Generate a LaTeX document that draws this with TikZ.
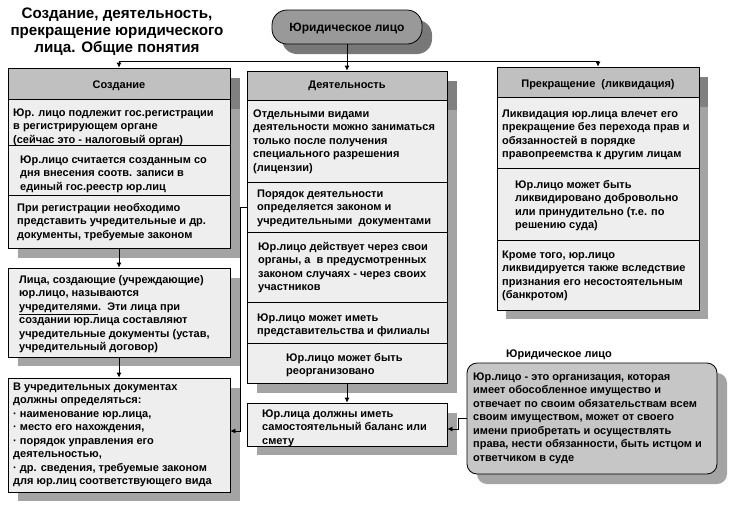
\documentclass[tikz,border=0pt]{standalone}
\usepackage{fontspec}
\setmainfont{Liberation Sans}
\usetikzlibrary{arrows.meta,fit}
\definecolor{cellfill}{HTML}{EEEEEE}
\definecolor{headfill}{HTML}{C0C0C0}
\definecolor{shdark}{HTML}{808080}
\definecolor{shlight}{HTML}{A4A4A4}
\definecolor{pillfill}{HTML}{999999}
\definecolor{pillshadow}{HTML}{787878}
\definecolor{deffill}{HTML}{C6C6C6}
\tikzset{
  boxline/.style={draw=black, line width=0.8pt},
  cell/.style={boxline, fill=cellfill, inner sep=0pt},
  headcell/.style={boxline, fill=headfill, inner sep=0pt},
  htxt/.style={anchor=base, inner sep=0pt, font=\fontsize{11}{13.5}\selectfont\bfseries},
  txt/.style={anchor=north west, inner sep=0pt, align=left, font=\fontsize{11}{13.5}\selectfont\bfseries},
  arr/.style={line width=0.8pt, -{Latex[length=5pt,width=5pt]}},
  conn/.style={line width=0.8pt},
}
\begin{document}
\begin{tikzpicture}[x=1pt,y=-1pt]
\useasboundingbox (0,0) rectangle (729,504);
\fill[white] (0,0) rectangle (729,504);

% ---------- title ----------
\node[inner sep=0pt, align=center, font=\fontsize{15.2}{17}\selectfont\bfseries, anchor=north] (title) at (117,8)
  {Создание, деятельность,\\прекращение юридического\\лица. Общие понятия};

% ---------- shadows ----------
\fill[pillshadow, rounded corners=15pt] (282,20) rectangle (432,54);
% column 1
\fill[shdark] (18,78) rectangle (240,109);
\fill[shlight] (18,109) rectangle (240,258);
\fill[shlight] (18,278) rectangle (240,366);
\fill[shlight] (18,388) rectangle (240,501);
% column 2
\fill[shdark] (257,81) rectangle (457,110);
\fill[shlight] (257,110) rectangle (457,393);
\fill[shlight] (257,413) rectangle (457,455);
% column 3
\fill[shdark] (506,77) rectangle (708,107);
\fill[shlight] (506,107) rectangle (708,319);
% definition
\fill[shlight, rounded corners=10pt] (477,373) rectangle (727,484);

% ---------- top pill ----------
\node[boxline, fill=pillfill, rounded corners=15pt, minimum width=150pt, minimum height=34pt,
      inner sep=0pt] (pill) at (347,27) {};
\node[anchor=base, inner sep=0pt, font=\fontsize{12}{14}\selectfont\bfseries] (pillt) at (347,31.5) {Юридическое лицо};

% ---------- column 1 ----------
\node[headcell, fit={(8,68)(230,99)}] (h1) {};
\node[htxt] (h1t) at (119,88) {Создание};
\node[cell, fit={(8,99)(230,145)}] (c1r1) {};
\node[cell, fit={(8,145)(230,195)}] (c1r2) {};
\node[cell, fit={(8,195)(230,248)}] (c1r3) {};
\node[cell, fit={(8,268)(230,357)}] (b2) {};
\node[cell, fit={(8,378)(230,492)}] (b3) {};

\node[txt] (t11) at (13,106.6) {\strut Юр. лицо подлежит гос.регистрации\\в регистрирующем органе\\(сейчас это - налоговый орган)};
\node[txt] (t12) at (20,153.6) {\strut Юр.лицо считается созданным со\\дня внесения соотв. записи в\\единый гос.реестр юр.лиц};
\node[txt] (t13) at (17,201.6) {\strut При регистрации необходимо\\представить учредительные и др.\\документы, требуемые законом};
\node[txt] (tb2) at (19,273.6) {\strut Лица, создающие (учреждающие)\\юр.лицо, называются\\\underline{учредителями}.\ \ Эти лица при\\создании юр.лица составляют\\учредительные документы (устав,\\учредительный договор)};
\node[txt] (tb3) at (13,380.6) {\strut В учредительных документах\\должны определяться:\\· наименование юр.лица,\\· место его нахождения,\\· порядок управления его\\деятельностью,\\· др. сведения, требуемые законом\\для юр.лиц соответствующего вида};

% ---------- column 2 ----------
\node[headcell, fit={(247,71)(447,100)}] (h2) {};
\node[htxt] (h2t) at (347,88.5) {Деятельность};
\node[cell, fit={(247,100)(447,182)}] (c2r1) {};
\node[cell, fit={(247,182)(447,232)}] (c2r2) {};
\node[cell, fit={(247,232)(447,302)}] (c2r3) {};
\node[cell, fit={(247,302)(447,343)}] (c2r4) {};
\node[cell, fit={(247,343)(447,383)}] (c2r5) {};
\node[cell, fit={(247,403)(447,446)}] (b4) {};

\node[txt] (t21) at (253,107.6) {\strut Отдельными видами\\деятельности можно заниматься\\только после получения\\специального разрешения\\(лицензии)};
\node[txt] (t22) at (257,187.6) {\strut Порядок деятельности\\определяется законом и\\учредительными\ \ документами};
\node[txt] (t23) at (258,240.6) {\strut Юр.лицо действует через свои\\органы, а\ \ в предусмотренных\\законом случаях - через своих\\участников};
\node[txt] (t24) at (257,311.6) {\strut Юр.лицо может иметь\\представительства и филиалы};
\node[txt] (t25) at (286,351.6) {\strut Юр.лицо может быть\\реорганизовано};
\node[txt] (tb4) at (262,407.6) {\strut Юр.лица должны иметь\\самостоятельный баланс или\\смету};

% ---------- column 3 ----------
\node[headcell, fit={(497,67)(699,97)}] (h3) {};
\node[htxt] (h3t) at (598,87.5) {Прекращение\ \ (ликвидация)};
\node[cell, fit={(497,97)(699,168)}] (c3r1) {};
\node[cell, fit={(497,168)(699,240)}] (c3r2) {};
\node[cell, fit={(497,240)(699,310)}] (c3r3) {};

\node[txt] (t31) at (502,107.6) {\strut Ликвидация юр.лица влечет его\\прекращение без перехода прав и\\обязанностей в порядке\\правопреемства к другим лицам};
\node[txt] (t32) at (515,178.6) {\strut Юр.лицо может быть\\ликвидировано добровольно\\или принудительно (т.е. по\\решению суда)};
\node[txt] (t33) at (502,248.6) {\strut Кроме того, юр.лицо\\ликвидируется также вследствие\\признания его несостоятельным\\(банкротом)};

% ---------- definition ----------
\node[anchor=base, font=\fontsize{11}{13.5}\selectfont\bfseries, inner sep=0pt] (deflabel) at (559,357) {Юридическое лицо};
\node[boxline, fill=deffill, rounded corners=10pt, fit={(467,363)(717,474)}, inner sep=0pt] (def) {};
\node[txt] (tdef) at (473,370.6) {\strut Юр.лицо - это организация, которая\\имеет обособленное имущество и\\отвечает по своим обязательствам всем\\своим имуществом, может от своего\\имени приобретать и осуществлять\\права, нести обязанности, быть истцом и\\ответчиком в суде};

% ---------- connectors ----------
\coordinate (bus) at (347,61);
\draw[conn] (pill.south) -- (bus);
\draw[arr] (bus) -- (h2.north);
\draw[arr] (bus) -| (h1.north);
\draw[arr] (bus) -| (h3.north);
\draw[arr] (c1r3.south) -- (b2.north);
\draw[arr] (b2.south) -- (b3.north);
\coordinate (j1) at (240,431);
\draw[arr] (c2r2.west) -| (j1) -- (j1 -| b3.east);
\draw[arr] (c2r5.south) -- (b4.north);
\coordinate (j2) at (458,429);
\draw[arr] (def.west) -| (j2) -- (j2 -| b4.east);
\end{tikzpicture}
\end{document}
